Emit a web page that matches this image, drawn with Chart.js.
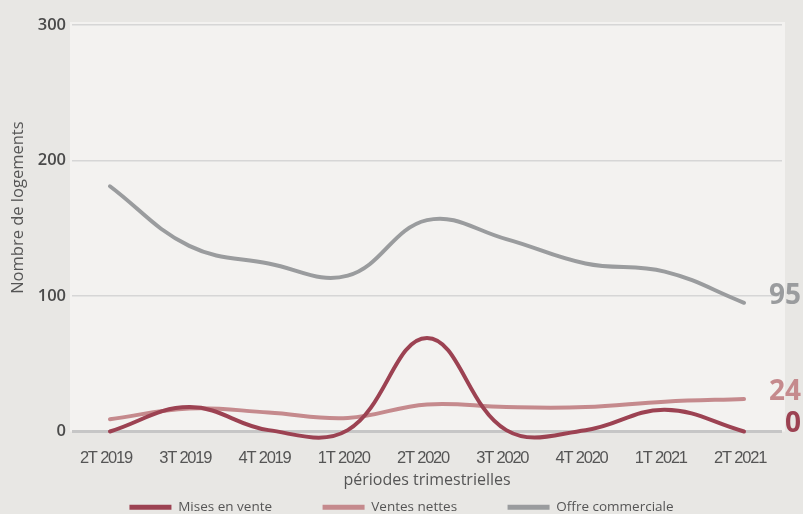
<!DOCTYPE html>
<html>
<head>
<meta charset="utf-8">
<script src="https://cdn.jsdelivr.net/npm/chart.js@4.4.1/dist/chart.umd.min.js"></script>
<style>
  html, body { margin: 0; padding: 0; background: #e8e7e4; }
  #wrap { width: 803px; height: 514px; }
</style>
</head>
<body>
<div id="wrap"><canvas id="mycanvas" width="803" height="514"></canvas></div>
<script>
var periodes = ["2T 2019", "3T 2019", "4T 2019", "1T 2020", "2T 2020", "3T 2020", "4T 2020", "1T 2021", "2T 2021"];
var misesEnVente = [0, 18, 1, 1, 69, 1, 1, 16, 0];
var ventesNettes = [9, 17, 14, 10, 20, 18, 18, 22, 24];
var offreCommerciale = [181, 137, 124, 115, 156, 142, 124, 118, 95];
var yTicks = [0, 100, 200, 300];

var colMises = "#9c4252";
var colVentes = "#c58a8d";
var colOffre = "#9a9c9e";

function toPoints(values) {
    var pts = [];
    for (var i in values) {
        pts.push({ x: Number(i), y: values[i] });
    }
    return pts;
}

// fond clair de la zone de tracé
var plotBg = {
    id: "plotBg",
    beforeDraw: function(chart) {
        var a = chart.chartArea;
        var c = chart.ctx;
        c.save();
        c.fillStyle = "#f3f2f0";
        c.fillRect(a.left - 2, a.top - 3, a.right - a.left + 5, a.bottom - a.top + 3);
        c.restore();
    }
};

// valeurs en fin de courbe + resserrer les étiquettes de l'axe x (dessinées après, ticks.z: 1)
var endLabels = {
    id: "endLabels",
    afterDatasetsDraw: function(chart) {
        var c = chart.ctx;
        c.save();
        c.font = "bold 28px 'Open Sans'";
        c.textAlign = "right";
        c.textBaseline = "middle";
        chart.data.datasets.forEach(function(ds, i) {
            var meta = chart.getDatasetMeta(i);
            var last = meta.data[meta.data.length - 1];
            var val = ds.data[ds.data.length - 1].y;
            c.fillStyle = ds.borderColor;
            c.fillText(String(val), 801, last.y - 7);
        });
        c.restore();
        c.letterSpacing = "-1.2px";
    },
    afterDraw: function(chart) {
        chart.ctx.letterSpacing = "0px";
    }
};

var lineStyle = {
    fill: false,
    tension: 0.4,
    borderWidth: 4,
    pointRadius: 0,
    borderCapStyle: "round",
    capBezierPoints: false,
    clip: false
};

var chartdata = {
    datasets: [
        Object.assign({ label: "Mises en vente", data: toPoints(misesEnVente), borderColor: colMises, backgroundColor: colMises }, lineStyle),
        Object.assign({ label: "Ventes nettes", data: toPoints(ventesNettes), borderColor: colVentes, backgroundColor: colVentes }, lineStyle),
        Object.assign({ label: "Offre commerciale", data: toPoints(offreCommerciale), borderColor: colOffre, backgroundColor: colOffre }, lineStyle)
    ]
};

var ctx = document.getElementById("mycanvas");
var lineGraph = new Chart(ctx, {
    type: "line",
    data: chartdata,
    plugins: [plotBg, endLabels],
    options: {
        responsive: false,
        animation: false,
        layout: { padding: { top: 25, right: 0, left: 0, bottom: -10 } },
        elements: { line: { capBezierPoints: false } },
        plugins: {
            legend: {
                position: "bottom",
                labels: {
                    color: "#555555",
                    font: { family: "'Open Sans'", size: 13.5 },
                    boxWidth: 42,
                    boxHeight: 5,
                    padding: 10,
                    generateLabels: function(chart) {
                        var n = chart.data.datasets.length;
                        return chart.data.datasets.map(function(ds, i) {
                            return {
                                text: i < n - 1 ? ds.label + "\u2003\u2003\u2003" : ds.label,
                                fillStyle: ds.borderColor,
                                strokeStyle: ds.borderColor,
                                lineWidth: 0,
                                datasetIndex: i,
                                fontColor: "#555555"
                            };
                        });
                    }
                }
            },
            tooltip: { enabled: false }
        },
        scales: {
            x: {
                type: "linear",
                min: -0.479,
                max: 8.479,
                afterFit: function(axis) {
                    axis.height = 59;
                    axis.paddingLeft = 0;
                    axis.paddingRight = 21;
                },
                grid: { display: false, drawTicks: false },
                border: { display: false },
                ticks: {
                    z: 1,
                    stepSize: 1,
                    includeBounds: false,
                    autoSkip: false,
                    maxRotation: 0,
                    padding: 17,
                    labelOffset: -4,
                    color: "#555555",
                    font: { family: "'Liberation Sans'", size: 16.5 },
                    callback: function(v) {
                        return Number.isInteger(v) && periodes[v] ? periodes[v] : "";
                    }
                },
                title: {
                    display: true,
                    text: "périodes trimestrielles",
                    color: "#555555",
                    font: { family: "'Open Sans'", size: 16 },
                    padding: { top: 3, bottom: 0 }
                }
            },
            y: {
                min: 0,
                max: 300,
                afterBuildTicks: function(axis) {
                    axis.ticks = yTicks.map(function(v) { return { value: v }; });
                },
                afterFit: function(axis) { axis.width = 72; },
                grid: {
                    drawTicks: false,
                    color: function(c) { return c.tick.value === 0 ? "#c6c6c6" : "#d6d6d6"; },
                    lineWidth: function(c) { return c.tick.value === 0 ? 3 : 1.5; }
                },
                border: { display: false },
                ticks: {
                    padding: 6,
                    color: "#4a4a4a",
                    font: { family: "'Open Sans'", size: 16.5, weight: "600" }
                },
                title: {
                    display: true,
                    text: "\u2003\u2003\u2002Nombre de logements",
                    color: "#555555",
                    font: { family: "'Open Sans'", size: 16.5 },
                    padding: { top: 8, bottom: 0 }
                }
            }
        }
    }
});
</script>
</body>
</html>
